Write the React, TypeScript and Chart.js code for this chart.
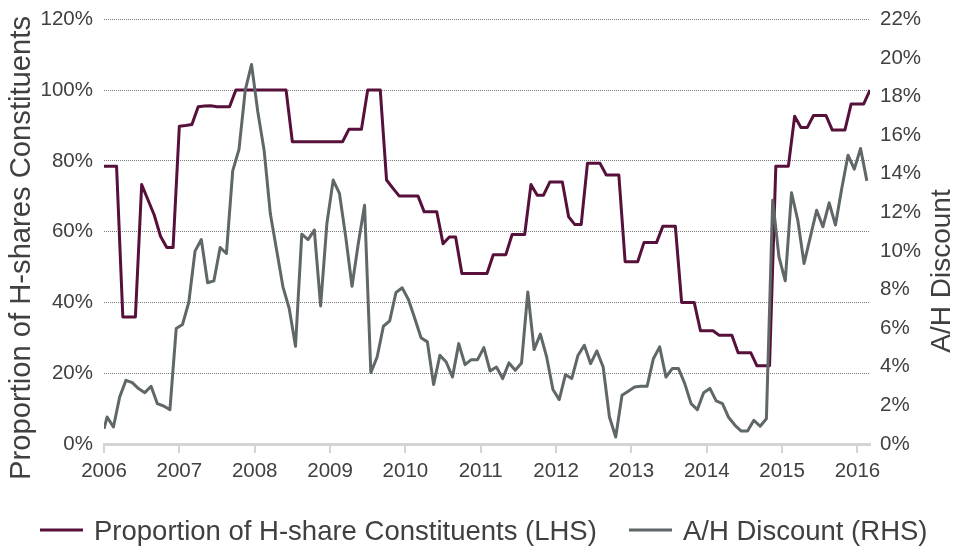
import React, { useEffect, useRef } from 'react';
import { Chart, registerables } from 'chart.js';

Chart.register(...registerables);

const FONT = '"Liberation Sans", Arial, Helvetica, sans-serif';
const TEXT = '#404040';
const MAROON = '#56103a';
const GRAY = '#5f6769';

// year tick labels (one every 12 months, starting Jan 2006)
const yearLabels = ['2006', '2007', '2008', '2009', '2010', '2011', '2012', '2013', '2014', '2015', '2016'];

// Proportion of H-share constituents (LHS, %), monthly from Jan 2006
const hShareProportion = [
  78.5, 78.5, 78.5, 35.9, 35.9, 35.9, 73.3, 69.0, 64.7, 58.7, 55.5, 55.5,
  89.8, 90.0, 90.3, 95.3, 95.5, 95.6, 95.3, 95.3, 95.3, 100, 100, 100,
  100, 100, 100, 100, 100, 100, 85.4, 85.4, 85.4, 85.4, 85.4, 85.4,
  85.4, 85.4, 85.4, 88.9, 88.9, 88.9, 100, 100, 100, 74.6, 72.3, 70.1,
  70.1, 70.1, 70.1, 65.6, 65.6, 65.6, 56.6, 58.5, 58.5, 48.2, 48.2, 48.2,
  48.2, 48.2, 53.5, 53.5, 53.5, 59.2, 59.2, 59.2, 73.3, 70.3, 70.3, 74.0,
  74.0, 74.0, 64.2, 62.0, 62.0, 79.3, 79.3, 79.3, 76.0, 76.0, 76.0, 51.5,
  51.5, 51.5, 56.9, 56.9, 56.9, 61.5, 61.5, 61.5, 40.0, 40.0, 40.0, 32.0,
  32.0, 32.0, 30.7, 30.7, 30.7, 25.8, 25.8, 25.8, 22.1, 22.1, 22.1, 78.5,
  78.5, 78.5, 92.6, 89.4, 89.4, 92.8, 92.8, 92.8, 88.7, 88.7, 88.7, 96.1,
  96.1, 96.1, 100,
];

// A/H discount (RHS, %): opening value at Jan 2006, then mid-month readings
const ahDiscountStart = 0.79;
const ahDiscount = [
  1.40, 0.88, 2.44, 3.30, 3.18, 2.87, 2.66, 2.99, 2.09, 1.97, 1.78, 5.98,
  6.19, 7.33, 9.99, 10.59, 8.35, 8.45, 10.18, 9.87, 14.15, 15.26, 18.33, 19.66,
  17.2, 15.22, 11.91, 10.04, 8.14, 7.02, 5.06, 10.87, 10.59, 11.08, 7.15, 11.42,
  13.67, 12.98, 10.73, 8.17, 10.39, 12.37, 3.70, 4.51, 6.10, 6.38, 7.85, 8.09,
  7.47, 6.50, 5.50, 5.29, 3.08, 4.60, 4.25, 3.47, 5.20, 4.11, 4.37, 4.37,
  4.99, 3.78, 3.99, 3.39, 4.20, 3.82, 4.20, 7.88, 4.89, 5.69, 4.51, 2.82,
  2.30, 3.59, 3.39, 4.60, 5.11, 4.16, 4.82, 3.99, 1.40, 0.36, 2.52, 2.73,
  2.95, 2.99, 2.99, 4.42, 5.03, 3.47, 3.91, 3.91, 3.13, 2.09, 1.78, 2.66,
  2.88, 2.23, 2.09, 1.37, 0.97, 0.67, 0.67, 1.23, 0.92, 1.31, 12.63, 9.69,
  8.45, 13.01, 11.59, 9.35, 10.73, 12.11, 11.25, 12.49, 11.34, 13.24, 14.96, 14.24,
  15.31, 13.63,
];

const legendLabels = ['Proportion of H-share Constituents (LHS)', 'A/H Discount (RHS)'];
const leftTitle = 'Proportion of H-shares Constituents';
const rightTitle = 'A/H Discount';

const decorPlugin = {
  id: 'decor',
  afterDraw(chart: any) {
    const ctx = chart.ctx;
    ctx.save();
    ctx.fillStyle = TEXT;
    ctx.textAlign = 'center';
    ctx.textBaseline = 'middle';
    // left axis title
    ctx.font = `29.2px ${FONT}`;
    ctx.save();
    ctx.translate(22, 248);
    ctx.rotate(-Math.PI / 2);
    ctx.fillText(leftTitle, 0, 0);
    ctx.restore();
    // right axis title
    ctx.font = `28px ${FONT}`;
    ctx.save();
    ctx.translate(942, 271);
    ctx.rotate(-Math.PI / 2);
    ctx.fillText(rightTitle, 0, 0);
    ctx.restore();

    // legend
    ctx.font = `27.5px ${FONT}`;
    ctx.textAlign = 'left';
    ctx.textBaseline = 'alphabetic';
    const items = [
      { color: MAROON, label: legendLabels[0], x0: 40 },
      { color: GRAY, label: legendLabels[1], x0: 629 },
    ];
    for (const it of items) {
      ctx.strokeStyle = it.color;
      ctx.lineWidth = 3;
      ctx.beginPath();
      ctx.moveTo(it.x0, 530);
      ctx.lineTo(it.x0 + 43, 530);
      ctx.stroke();
      ctx.fillText(it.label, it.x0 + 54, 540);
    }
    ctx.restore();
  },
};

export default function App() {
  const ref = useRef<HTMLCanvasElement | null>(null);

  useEffect(() => {
    document.body.style.margin = '0';
    const canvas = ref.current;
    if (!canvas) return;

    const maroonData = hShareProportion.map((v, i) => ({ x: i, y: v }));
    const grayData = [{ x: 0, y: ahDiscountStart }].concat(
      ahDiscount.map((v, k) => ({ x: k + 0.5, y: v }))
    );

    const chart = new Chart(canvas, {
      type: 'line',
      data: {
        datasets: [
          {
            label: legendLabels[0],
            data: maroonData,
            yAxisID: 'yL',
            borderColor: MAROON,
            borderWidth: 3,
            pointRadius: 0,
            tension: 0,
            borderJoinStyle: 'round',
            order: 2,
          },
          {
            label: legendLabels[1],
            data: grayData,
            yAxisID: 'yR',
            borderColor: GRAY,
            borderWidth: 3,
            pointRadius: 0,
            tension: 0,
            borderJoinStyle: 'round',
            order: 1,
          },
        ],
      },
      options: {
        responsive: false,
        animation: false,
        layout: { padding: { top: 19.3, left: 0, right: 0, bottom: 0 } },
        plugins: {
          legend: { display: false },
          tooltip: { enabled: false },
        },
        scales: {
          x: {
            type: 'linear',
            min: 0,
            max: 122,
            afterFit: (s: any) => { s.height = 104; },
            ticks: {
              stepSize: 12,
              includeBounds: false,
              autoSkip: false,
              maxRotation: 0,
              padding: 6,
              color: TEXT,
              font: { family: FONT, size: 20.5 },
              callback: (v: any) => yearLabels[Math.round(Number(v) / 12)] ?? '',
            },
            grid: {
              drawOnChartArea: false,
              drawTicks: true,
              tickLength: 9,
              color: '#d4d4d4',
              lineWidth: 2,
            },
            border: { display: true, color: '#d4d4d4', width: 3 },
          },
          yL: {
            type: 'linear',
            position: 'left',
            min: 0,
            max: 120,
            afterFit: (s: any) => { s.width = 104; s.paddingTop = 0; s.paddingBottom = 0; },
            ticks: {
              stepSize: 20,
              padding: 11,
              color: TEXT,
              font: { family: FONT, size: 20.5 },
              callback: (v: any) => `${v}%`,
            },
            grid: {
              drawTicks: false,
              color: '#7a7a7a',
              lineWidth: 1,
            },
            border: { display: false, dash: [1, 1] },
          },
          yR: {
            type: 'linear',
            position: 'right',
            min: 0,
            max: 22,
            afterFit: (s: any) => { s.width = 84; s.paddingTop = 0; s.paddingBottom = 0; },
            ticks: {
              stepSize: 2,
              padding: 10,
              color: TEXT,
              font: { family: FONT, size: 20.5 },
              callback: (v: any) => `${v}%`,
            },
            grid: { display: false, drawTicks: false },
            border: { display: false },
          },
        },
      },
      plugins: [decorPlugin],
    });

    return () => chart.destroy();
  }, []);

  return (
    <div style={{ width: 954, height: 548, position: 'relative' }}>
      <canvas ref={ref} width={954} height={548} style={{ display: 'block' }} />
    </div>
  );
}
